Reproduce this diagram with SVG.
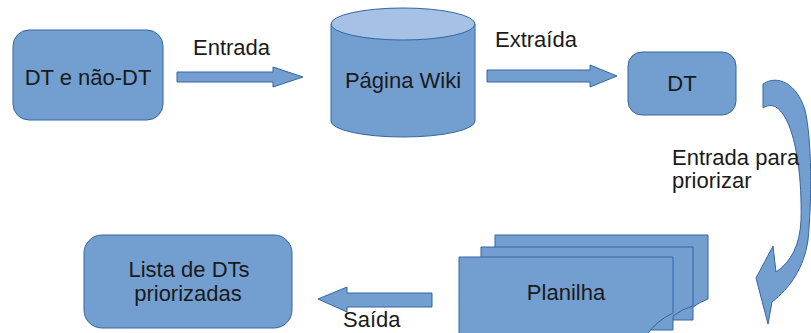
<svg xmlns="http://www.w3.org/2000/svg" width="811" height="333" viewBox="0 0 811 333">
  <style>
    .shape { fill: #729fcf; stroke: #3465a4; stroke-width: 1; }
    .top { fill: #a5c1e5; stroke: #3465a4; stroke-width: 1; }
    .arrow { fill: #729fcf; stroke: #3465a4; stroke-width: 1; stroke-linejoin: miter; }
    text { font-family: "Liberation Sans", Arial, sans-serif; font-size: 22px; fill: #1a1a1a; }
    .c { text-anchor: middle; }
  </style>
  <rect width="811" height="333" fill="#ffffff"/>

  <g id="node-dt-nao-dt">
    <rect class="shape" x="13" y="30" width="150" height="90" rx="16" ry="16"/>
    <text class="c" x="88" y="85">DT e não-DT</text>
  </g>

  <g id="node-pagina-wiki">
    <path class="shape" d="M331,24 V121 A72,16 0 0 0 475,121 V24 Z"/>
    <ellipse class="top" cx="403" cy="24" rx="72" ry="16"/>
    <text class="c" x="403" y="88">Página Wiki</text>
  </g>

  <g id="node-dt">
    <rect class="shape" x="628" y="52" width="108" height="63" rx="14" ry="14"/>
    <text class="c" x="682" y="91">DT</text>
  </g>

  <g id="node-planilha">
    <path class="shape" d="M495,235 H708 V299 Q700,302 693,307 V320 H495 Z"/>
    <path class="shape" d="M481,247 H693 V306 Q682,309 673,316 V330 H481 Z"/>
    <path class="shape" d="M459,257 H673 V313 Q656,321 646,336 H459 Z"/>
    <text class="c" x="566" y="300">Planilha</text>
  </g>

  <g id="node-lista">
    <rect class="shape" x="84" y="235" width="208" height="93" rx="18" ry="18"/>
    <text class="c" x="189" y="277">Lista de DTs</text>
    <text class="c" x="188" y="301">priorizadas</text>
  </g>

  <g id="connectors">
    <path class="arrow" d="M177,72 H273 V67 L303,77 L273,87 V82 H177 Z"/>
    <path class="arrow" d="M487,70 H590 V65 L617,76 L590,87 V82 H487 Z"/>
    <path class="arrow" d="M763,84 C778,74 797,84 805,110 C812,140 812,200 808,240 C804,268 790,288 772,302 L768,324 L756,278 L773,246 L776,272 C791,262 800,245 801,220 C802,180 797,142 787,121 C780,107 772,102 763,108 Z"/>
    <path class="arrow" d="M432,293 H347 V287 L318,299 L347,312 V307 H432 Z"/>
  </g>

  <g id="labels">
    <text x="193" y="55">Entrada</text>
    <text x="495" y="47">Extraída</text>
    <text x="672" y="165">Entrada para</text>
    <text x="672" y="188">priorizar</text>
    <text x="343" y="327">Saída</text>
  </g>
</svg>
